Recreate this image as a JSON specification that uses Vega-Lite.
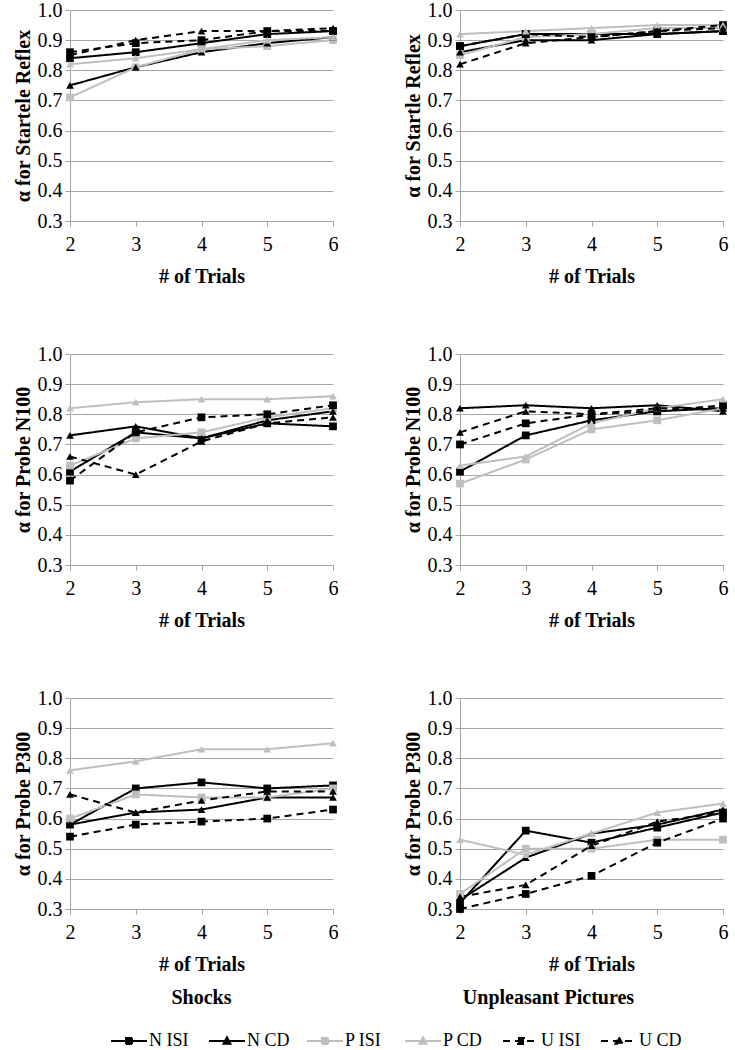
{
  "$schema": "https://vega.github.io/schema/vega-lite/v6.json",
  "padding": {"top": 0, "left": 13, "right": 2, "bottom": 0},
  "background": "white",
  "datasets": {
    "alpha": [
      {"panel": "SS", "series": "N ISI", "2": 0.84, "3": 0.86, "4": 0.89, "5": 0.92, "6": 0.93},
      {"panel": "SS", "series": "N CD", "2": 0.75, "3": 0.81, "4": 0.86, "5": 0.89, "6": 0.91},
      {"panel": "SS", "series": "P ISI", "2": 0.71, "3": 0.81, "4": 0.87, "5": 0.88, "6": 0.90},
      {"panel": "SS", "series": "P CD", "2": 0.82, "3": 0.84, "4": 0.87, "5": 0.90, "6": 0.91},
      {"panel": "SS", "series": "U ISI", "2": 0.86, "3": 0.89, "4": 0.90, "5": 0.93, "6": 0.93},
      {"panel": "SS", "series": "U CD", "2": 0.85, "3": 0.90, "4": 0.93, "5": 0.93, "6": 0.94},

      {"panel": "US", "series": "N ISI", "2": 0.88, "3": 0.92, "4": 0.92, "5": 0.92, "6": 0.93},
      {"panel": "US", "series": "N CD", "2": 0.86, "3": 0.90, "4": 0.90, "5": 0.92, "6": 0.93},
      {"panel": "US", "series": "P ISI", "2": 0.85, "3": 0.91, "4": 0.92, "5": 0.94, "6": 0.94},
      {"panel": "US", "series": "P CD", "2": 0.92, "3": 0.93, "4": 0.94, "5": 0.95, "6": 0.95},
      {"panel": "US", "series": "U ISI", "2": 0.88, "3": 0.92, "4": 0.91, "5": 0.93, "6": 0.95},
      {"panel": "US", "series": "U CD", "2": 0.82, "3": 0.89, "4": 0.91, "5": 0.93, "6": 0.94},

      {"panel": "SN", "series": "N ISI", "2": 0.61, "3": 0.74, "4": 0.72, "5": 0.77, "6": 0.76},
      {"panel": "SN", "series": "N CD", "2": 0.73, "3": 0.76, "4": 0.72, "5": 0.78, "6": 0.81},
      {"panel": "SN", "series": "P ISI", "2": 0.63, "3": 0.72, "4": 0.74, "5": 0.79, "6": 0.82},
      {"panel": "SN", "series": "P CD", "2": 0.82, "3": 0.84, "4": 0.85, "5": 0.85, "6": 0.86},
      {"panel": "SN", "series": "U ISI", "2": 0.58, "3": 0.74, "4": 0.79, "5": 0.80, "6": 0.83},
      {"panel": "SN", "series": "U CD", "2": 0.66, "3": 0.60, "4": 0.71, "5": 0.77, "6": 0.79},

      {"panel": "UN", "series": "N ISI", "2": 0.61, "3": 0.73, "4": 0.78, "5": 0.81, "6": 0.82},
      {"panel": "UN", "series": "N CD", "2": 0.82, "3": 0.83, "4": 0.82, "5": 0.83, "6": 0.81},
      {"panel": "UN", "series": "P ISI", "2": 0.57, "3": 0.65, "4": 0.75, "5": 0.78, "6": 0.82},
      {"panel": "UN", "series": "P CD", "2": 0.63, "3": 0.66, "4": 0.77, "5": 0.82, "6": 0.85},
      {"panel": "UN", "series": "U ISI", "2": 0.70, "3": 0.77, "4": 0.80, "5": 0.81, "6": 0.83},
      {"panel": "UN", "series": "U CD", "2": 0.74, "3": 0.81, "4": 0.80, "5": 0.82, "6": 0.82},

      {"panel": "SP", "series": "N ISI", "2": 0.58, "3": 0.70, "4": 0.72, "5": 0.70, "6": 0.71},
      {"panel": "SP", "series": "N CD", "2": 0.58, "3": 0.62, "4": 0.63, "5": 0.67, "6": 0.67},
      {"panel": "SP", "series": "P ISI", "2": 0.60, "3": 0.68, "4": 0.67, "5": 0.67, "6": 0.70},
      {"panel": "SP", "series": "P CD", "2": 0.76, "3": 0.79, "4": 0.83, "5": 0.83, "6": 0.85},
      {"panel": "SP", "series": "U ISI", "2": 0.54, "3": 0.58, "4": 0.59, "5": 0.60, "6": 0.63},
      {"panel": "SP", "series": "U CD", "2": 0.68, "3": 0.62, "4": 0.66, "5": 0.69, "6": 0.69},

      {"panel": "UP", "series": "N ISI", "2": 0.32, "3": 0.56, "4": 0.52, "5": 0.57, "6": 0.62},
      {"panel": "UP", "series": "N CD", "2": 0.33, "3": 0.47, "4": 0.55, "5": 0.58, "6": 0.63},
      {"panel": "UP", "series": "P ISI", "2": 0.35, "3": 0.50, "4": 0.50, "5": 0.53, "6": 0.53},
      {"panel": "UP", "series": "P CD", "2": 0.53, "3": 0.48, "4": 0.55, "5": 0.62, "6": 0.65},
      {"panel": "UP", "series": "U ISI", "2": 0.30, "3": 0.35, "4": 0.41, "5": 0.52, "6": 0.60},
      {"panel": "UP", "series": "U CD", "2": 0.34, "3": 0.38, "4": 0.51, "5": 0.59, "6": 0.62}
    ]
  },
  "data": {"name": "alpha"},
  "transform": [{"fold": ["2", "3", "4", "5", "6"], "as": ["trials", "alpha"]}],
  "resolve": {"scale": {"color": "shared", "strokeDash": "shared"}},
  "spacing": 58,
  "vconcat": [
    {
      "spacing": 65,
      "hconcat": [
        {
          "width": 263, "height": 211,
          "transform": [{"filter": "datum.panel == 'SS'"}],
          "encoding": {
            "x": {"field": "trials", "type": "ordinal", "sort": ["2", "3", "4", "5", "6"], "scale": {"type": "point", "padding": 0}, "axis": {"title": "# of Trials", "labelAngle": 0}},
            "y": {"field": "alpha", "type": "quantitative", "scale": {"domain": [0.3, 1.0], "nice": false, "zero": false}, "axis": {"title": "α for Startele Reflex", "values": [0.3, 0.4, 0.5, 0.6, 0.7, 0.8, 0.9, 1.0], "format": ".1f"}},
            "color": {"field": "series", "type": "nominal", "scale": {"domain": ["N ISI", "N CD", "P ISI", "P CD", "U ISI", "U CD"], "range": ["#000000", "#000000", "#bfbfbf", "#bfbfbf", "#000000", "#000000"]}, "legend": null}
          },
          "layer": [
            {"mark": {"type": "line", "strokeWidth": 2},
             "encoding": {
               "color": {"field": "series", "type": "nominal",
                 "legend": {"title": " ", "titleOrient": "left", "titlePadding": 60, "titleFontSize": 18, "orient": "bottom", "direction": "horizontal", "columns": 6, "gridAlign": "all", "columnPadding": 13, "labelOffset": 11, "labelFont": "Times New Roman, Liberation Serif, serif", "labelFontSize": 18, "labelColor": "black", "symbolSize": 100, "offset": 24,
                   "encode": {"symbols": {"update": {
                     "shape": {"signal": "indexof(datum.value, 'ISI') >= 0 ? 'M-3.6,0L3.6,0M-0.6,-0.6L0.6,-0.6L0.6,0.6L-0.6,0.6Z' : 'M-3.6,0L3.6,0M0,-0.75L0.7,0.55L-0.7,0.55Z'"},
                     "fill": {"signal": "indexof(datum.value, 'P ') == 0 ? '#bfbfbf' : '#000000'"},
                     "stroke": {"signal": "indexof(datum.value, 'P ') == 0 ? '#bfbfbf' : '#000000'"},
                     "strokeDash": {"signal": "indexof(datum.value, 'U ') == 0 ? [6, 5] : [1, 0]"},
                     "strokeWidth": {"value": 2},
                     "opacity": {"value": 1}
                   }}}}},
               "strokeDash": {"field": "series", "type": "nominal", "scale": {"domain": ["N ISI", "N CD", "P ISI", "P CD", "U ISI", "U CD"], "range": [[1, 0], [1, 0], [1, 0], [1, 0], [7, 5], [7, 5]]}, "legend": null}
             }},
            {"transform": [{"filter": "indexof(datum.series, 'ISI') >= 0"}], "mark": {"type": "square", "filled": true, "size": 60, "opacity": 1}},
            {"transform": [{"filter": "indexof(datum.series, 'CD') >= 0"}], "mark": {"type": "point", "shape": "triangle-up", "filled": true, "size": 60, "opacity": 1}}
          ]
        },
        {
          "width": 263, "height": 211,
          "transform": [{"filter": "datum.panel == 'US'"}],
          "encoding": {
            "x": {"field": "trials", "type": "ordinal", "sort": ["2", "3", "4", "5", "6"], "scale": {"type": "point", "padding": 0}, "axis": {"title": "# of Trials", "labelAngle": 0}},
            "y": {"field": "alpha", "type": "quantitative", "scale": {"domain": [0.3, 1.0], "nice": false, "zero": false}, "axis": {"title": "α for Startle Reflex", "values": [0.3, 0.4, 0.5, 0.6, 0.7, 0.8, 0.9, 1.0], "format": ".1f"}},
            "color": {"field": "series", "type": "nominal", "legend": null}
          },
          "layer": [
            {"mark": {"type": "line", "strokeWidth": 2}, "encoding": {"strokeDash": {"field": "series", "type": "nominal", "legend": null}}},
            {"transform": [{"filter": "indexof(datum.series, 'ISI') >= 0"}], "mark": {"type": "square", "filled": true, "size": 60, "opacity": 1}},
            {"transform": [{"filter": "indexof(datum.series, 'CD') >= 0"}], "mark": {"type": "point", "shape": "triangle-up", "filled": true, "size": 60, "opacity": 1}}
          ]
        }
      ]
    },
    {
      "spacing": 65,
      "hconcat": [
        {
          "width": 263, "height": 211,
          "transform": [{"filter": "datum.panel == 'SN'"}],
          "encoding": {
            "x": {"field": "trials", "type": "ordinal", "sort": ["2", "3", "4", "5", "6"], "scale": {"type": "point", "padding": 0}, "axis": {"title": "# of Trials", "labelAngle": 0}},
            "y": {"field": "alpha", "type": "quantitative", "scale": {"domain": [0.3, 1.0], "nice": false, "zero": false}, "axis": {"title": "α for Probe N100", "values": [0.3, 0.4, 0.5, 0.6, 0.7, 0.8, 0.9, 1.0], "format": ".1f"}},
            "color": {"field": "series", "type": "nominal", "legend": null}
          },
          "layer": [
            {"mark": {"type": "line", "strokeWidth": 2}, "encoding": {"strokeDash": {"field": "series", "type": "nominal", "legend": null}}},
            {"transform": [{"filter": "indexof(datum.series, 'ISI') >= 0"}], "mark": {"type": "square", "filled": true, "size": 60, "opacity": 1}},
            {"transform": [{"filter": "indexof(datum.series, 'CD') >= 0"}], "mark": {"type": "point", "shape": "triangle-up", "filled": true, "size": 60, "opacity": 1}}
          ]
        },
        {
          "width": 263, "height": 211,
          "transform": [{"filter": "datum.panel == 'UN'"}],
          "encoding": {
            "x": {"field": "trials", "type": "ordinal", "sort": ["2", "3", "4", "5", "6"], "scale": {"type": "point", "padding": 0}, "axis": {"title": "# of Trials", "labelAngle": 0}},
            "y": {"field": "alpha", "type": "quantitative", "scale": {"domain": [0.3, 1.0], "nice": false, "zero": false}, "axis": {"title": "α for Probe N100", "values": [0.3, 0.4, 0.5, 0.6, 0.7, 0.8, 0.9, 1.0], "format": ".1f"}},
            "color": {"field": "series", "type": "nominal", "legend": null}
          },
          "layer": [
            {"mark": {"type": "line", "strokeWidth": 2}, "encoding": {"strokeDash": {"field": "series", "type": "nominal", "legend": null}}},
            {"transform": [{"filter": "indexof(datum.series, 'ISI') >= 0"}], "mark": {"type": "square", "filled": true, "size": 60, "opacity": 1}},
            {"transform": [{"filter": "indexof(datum.series, 'CD') >= 0"}], "mark": {"type": "point", "shape": "triangle-up", "filled": true, "size": 60, "opacity": 1}}
          ]
        }
      ]
    },
    {
      "spacing": 65,
      "hconcat": [
        {
          "width": 263, "height": 211,
          "title": {"text": "Shocks", "orient": "bottom", "anchor": "middle", "font": "Times New Roman, Liberation Serif, serif", "fontSize": 20, "fontWeight": "bold", "color": "black", "offset": 14},
          "transform": [{"filter": "datum.panel == 'SP'"}],
          "encoding": {
            "x": {"field": "trials", "type": "ordinal", "sort": ["2", "3", "4", "5", "6"], "scale": {"type": "point", "padding": 0}, "axis": {"title": "# of Trials", "labelAngle": 0}},
            "y": {"field": "alpha", "type": "quantitative", "scale": {"domain": [0.3, 1.0], "nice": false, "zero": false}, "axis": {"title": "α for Probe P300", "values": [0.3, 0.4, 0.5, 0.6, 0.7, 0.8, 0.9, 1.0], "format": ".1f"}},
            "color": {"field": "series", "type": "nominal", "legend": null}
          },
          "layer": [
            {"mark": {"type": "line", "strokeWidth": 2}, "encoding": {"strokeDash": {"field": "series", "type": "nominal", "legend": null}}},
            {"transform": [{"filter": "indexof(datum.series, 'ISI') >= 0"}], "mark": {"type": "square", "filled": true, "size": 60, "opacity": 1}},
            {"transform": [{"filter": "indexof(datum.series, 'CD') >= 0"}], "mark": {"type": "point", "shape": "triangle-up", "filled": true, "size": 60, "opacity": 1}}
          ]
        },
        {
          "width": 263, "height": 211,
          "title": {"text": "Unpleasant Pictures", "orient": "bottom", "anchor": "middle", "font": "Times New Roman, Liberation Serif, serif", "fontSize": 20, "fontWeight": "bold", "color": "black", "offset": 14, "dx": -43},
          "transform": [{"filter": "datum.panel == 'UP'"}],
          "encoding": {
            "x": {"field": "trials", "type": "ordinal", "sort": ["2", "3", "4", "5", "6"], "scale": {"type": "point", "padding": 0}, "axis": {"title": "# of Trials", "labelAngle": 0}},
            "y": {"field": "alpha", "type": "quantitative", "scale": {"domain": [0.3, 1.0], "nice": false, "zero": false}, "axis": {"title": "α for Probe P300", "values": [0.3, 0.4, 0.5, 0.6, 0.7, 0.8, 0.9, 1.0], "format": ".1f"}},
            "color": {"field": "series", "type": "nominal", "legend": null}
          },
          "layer": [
            {"mark": {"type": "line", "strokeWidth": 2}, "encoding": {"strokeDash": {"field": "series", "type": "nominal", "legend": null}}},
            {"transform": [{"filter": "indexof(datum.series, 'ISI') >= 0"}], "mark": {"type": "square", "filled": true, "size": 60, "opacity": 1}},
            {"transform": [{"filter": "indexof(datum.series, 'CD') >= 0"}], "mark": {"type": "point", "shape": "triangle-up", "filled": true, "size": 60, "opacity": 1}}
          ]
        }
      ]
    }
  ],
  "config": {
    "font": "Times New Roman, Liberation Serif, serif",
    "view": {"stroke": null},
    "legend": {"layout": {"bottom": {"anchor": "middle"}}},
    "axis": {
      "labelFont": "Times New Roman, Liberation Serif, serif", "labelFontSize": 20, "labelColor": "#000000",
      "titleFont": "Times New Roman, Liberation Serif, serif", "titleFontSize": 20, "titleFontWeight": "bold", "titleColor": "#000000",
      "domainColor": "#a6a6a6", "tickColor": "#a6a6a6", "gridColor": "#a6a6a6", "gridOpacity": 1, "domainWidth": 1, "tickSize": 5
    },
    "axisX": {"grid": false, "labelPadding": 8, "titlePadding": 12},
    "axisY": {"grid": true, "labelPadding": 3, "titlePadding": 4}
  }
}
